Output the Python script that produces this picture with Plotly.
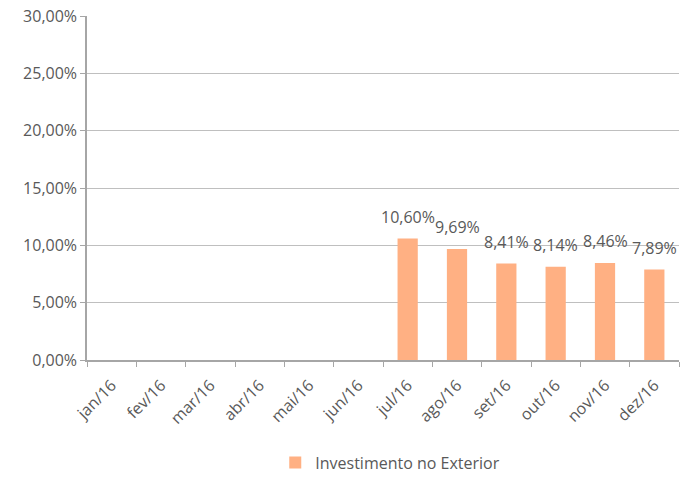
import plotly.graph_objects as go

months = ["jan/16", "fev/16", "mar/16", "abr/16", "mai/16", "jun/16",
          "jul/16", "ago/16", "set/16", "out/16", "nov/16", "dez/16"]
investimento_exterior = [None, None, None, None, None, None,
                         0.1060, 0.0969, 0.0841, 0.0814, 0.0846, 0.0789]
y_ticks = [0, 0.05, 0.10, 0.15, 0.20, 0.25, 0.30]

FONT = "Open Sans, Liberation Sans, sans-serif"
GRAY = "#595959"
FS = 16

fig = go.Figure()
fig.add_trace(go.Bar(
    x=months, y=investimento_exterior, name="Investimento no Exterior",
    marker=dict(color="#FFB083", line=dict(width=0)),
    cliponaxis=False,
))

# data labels placed from the data through the axes
for m, v in zip(months, investimento_exterior):
    if v is None:
        continue
    fig.add_annotation(
        x=m, y=v, xref="x", yref="y", text=f"{v*100:.2f}%".replace(".", ","),
        showarrow=False, yanchor="middle", yshift=21.5,
        font=dict(family=FONT, size=FS, color=GRAY),
    )

fig.update_layout(
    width=689, height=479,
    margin=dict(l=87, r=10, t=16, b=119, autoexpand=False),
    paper_bgcolor="white", plot_bgcolor="white",
    separators=",.",
    bargap=0.59,
    showlegend=True,
    legend=dict(orientation="h", x=0.318, xanchor="left", y=-0.298, yanchor="middle",
                font=dict(family=FONT, size=FS, color=GRAY)),
    font=dict(family=FONT, size=FS, color=GRAY),
    xaxis=dict(
        categoryorder="array", categoryarray=months, automargin=False,
        tickangle=-45, tickson="boundaries", ticks="outside", ticklen=5,
        ticklabelstandoff=8,
        tickcolor="#A6A6A6", showline=True, linecolor="#A6A6A6", linewidth=1.5,
        showgrid=False, tickfont=dict(family=FONT, size=FS, color=GRAY),
    ),
    yaxis=dict(
        range=[0, 0.30], tickvals=y_ticks, tickformat=".2%", automargin=False,
        ticks="outside", ticklen=5, tickcolor="#A6A6A6",
        showline=True, linecolor="#A6A6A6", linewidth=1.5,
        showgrid=True, gridcolor="#BFBFBF", gridwidth=1, zeroline=False,
        tickfont=dict(family=FONT, size=FS, color=GRAY),
    ),
)

fig.write_html("out.html", config={"displayModeBar": False},
               post_script="document.body.style.margin='0';")
